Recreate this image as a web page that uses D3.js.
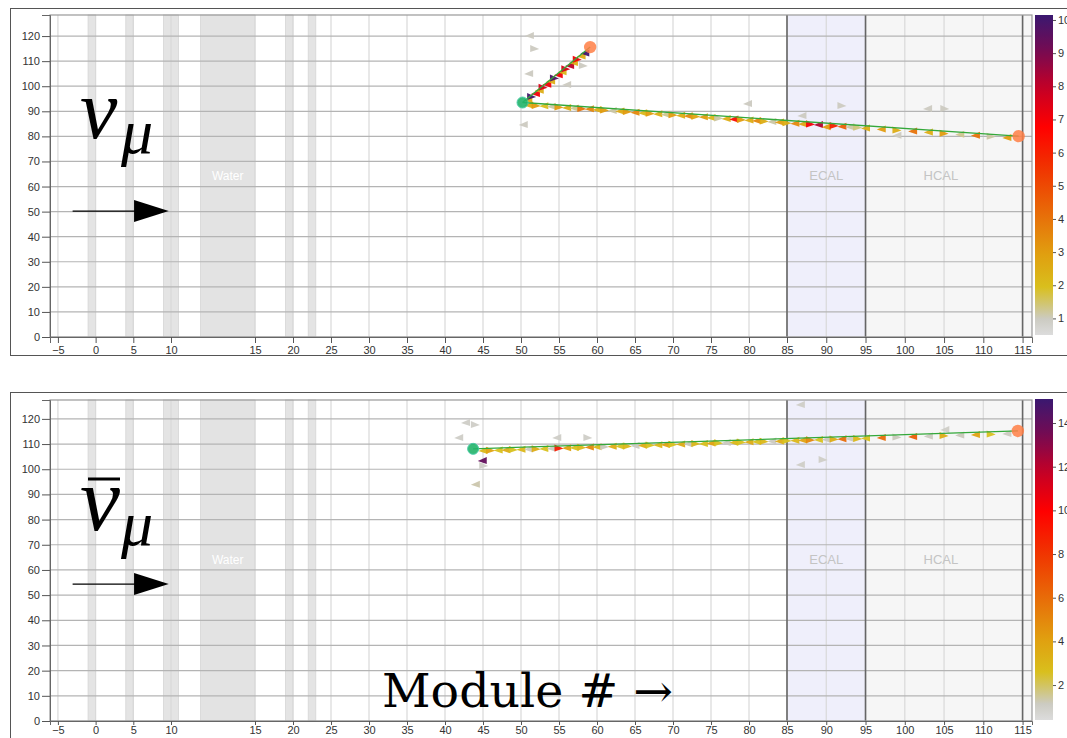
<!DOCTYPE html>
<html><head><meta charset="utf-8">
<script src="https://cdn.jsdelivr.net/npm/d3@7"></script>
<style>body{margin:0;background:#fff;overflow:hidden} svg{display:block}</style>
</head><body><svg id="c" width="1067" height="738"></svg>
<script>
// ---------------- data ----------------
const xTicks = [-5,0,5,10,15,20,25,30,35,40,45,50,55,60,65,70,75,80,85,90,95,100,105,110,115];
const yTicks = [0,10,20,30,40,50,60,70,80,90,100,110,120];
const targetBands = [[-1,0],[4,5],[9,10.45],[19,20],[22,23]];
const waterBand = [11.75,15];
const ecalRange = [85,95];
const hcalRange = [95,115];
const regionLabels = ["Water","ECAL","HCAL"];

const numuCbarTicks = [1,2,3,4,5,6,7,8,9,10];
const numuCbarDomain = [0.5,10.15];
const nubarCbarTicks = [2,4,6,8,10,12,14];
const nubarCbarDomain = [0.4,15.1];

// nu_mu event: vertex, track end points, hits [module, position, energy]
const numuVertex = [50.2,93.5];
const numuTrackEnds = [[114.5,80.1],[59.1,115.6]];
const numuMuonHits = [
 [51,93.1,2.5],[52,92.9,3],[53,92.8,2],[54,92.6,1.2],[55,92.3,3],[56,92.1,2.5],[57,91.9,1.3],[58,91.7,4],
 [59,91.6,3.6],[60,91.3,2.5],[61,91.1,3],[62,90.9,1.2],[63,90.7,2.5],[64,90.5,3],[65,90.2,3.5],[66,90.0,2.2],
 [67,89.8,3],[68,89.6,2.5],[69,89.4,1.3],[70,89.2,3],[71,89.0,2.5],[72,88.8,3.5],[73,88.6,2.8],[74,88.4,3],
 [75,88.1,2.2],[76,87.9,1.2],[77,87.7,2.5],[78,87.5,6.5],[79,87.3,3],[80,87.1,2.5],[81,86.9,3.5],[82,86.7,2.5],
 [83,86.5,1.2],[84,86.3,3],[85,86.0,2.5],[86,85.8,3.5],[87,85.6,2.8],[88,85.5,7],[89,85.3,8.2],[90,84.4,3],
 [91,84.9,6],[92,84.6,4.5],[93,84.4,1.2],[94,84.2,1.4],[95,83.9,2.5],[97,83.5,3],[99,83.1,2.5],[101,82.7,4],
 [103,82.3,2.5],[105,81.8,3],[107,81.4,1.3],[109,81.0,4],[111,80.6,1.2],[113,80.2,3]
];
const numuProtonHits = [
 [50.9,95.2,2.5],[51.4,96.5,10],[51.9,97.7,7],[52.4,99.0,2.5],[52.9,100.2,7.5],[53.4,101.4,7],[53.9,102.7,2.5],
 [54.4,103.9,9.8],[54.9,105.2,7],[55.4,106.4,2.2],[55.9,107.6,7.5],[56.4,108.9,8],[56.9,110.1,2.5],[57.4,111.4,7],
 [57.9,112.6,2.5],[58.4,113.8,10]
];
const numuLooseHits = [
 [51.1,120.8,1],[51.8,115.6,1],[51.0,105.7,1],[56.0,101.3,1],[58.2,108.9,1],[50.3,85.3,1],
 [79.8,93.7,1],[92.0,92.9,1],[86.9,88.9,1],[102.9,91.7,1],[105.1,91.7,1],[99.0,81.0,1]
];

// anti-nu_mu event
const nubarVertex = [43.7,108.1];
const nubarTrackEnds = [[114.4,115.2]];
const nubarMuonHits = [
 [45,108.0,3],[46,108.1,4],[47,108.2,2.5],[48,108.3,3.5],[49,108.4,2.5],[50,108.5,3],[51,108.6,1.2],[52,108.7,3.5],
 [53,108.8,2.5],[54,108.9,1.2],[55,109.0,9],[56,109.1,4],[57,109.2,2.5],[58,109.3,3],[59,109.4,5],[60,109.5,3],
 [61,109.6,1.3],[62,109.7,3.5],[63,109.8,2.5],[64,109.8,3],[65,110.0,1.2],[66,110.1,3.5],[67,110.2,2.5],[68,110.3,3],
 [69,110.4,4],[70,110.5,2.5],[71,110.6,3.5],[72,110.7,1.3],[73,110.8,3],[74,110.8,2.5],[75,111.0,4],[76,111.1,2.5],
 [77,111.2,1.2],[78,111.3,3],[79,111.4,2.5],[80,111.5,3.5],[81,111.6,2.5],[82,111.7,3],[83,111.8,1.2],[84,111.8,3.5],
 [85,112.0,2.5],[86,112.1,3],[87,112.2,4],[88,112.3,5],[89,112.4,2.5],[90,112.5,1.3],[91,112.6,3.5],[92,112.7,6],
 [93,112.8,1.2],[94,112.8,3],[95,113.0,2.5],[97,113.2,6],[99,113.4,1.3],[101,113.6,6.5],[103,113.8,1.2],
 [105,114.0,3.5],[107,114.2,1.3],[109,114.4,4],[111,114.6,2.5],[113,114.8,1.2]
];
const nubarLooseHits = [
 [42.7,119.2,1],[44.0,118.4,1],[41.8,113.2,1],[44.9,104.1,14],[45.1,102.1,1],[44.0,94.6,1.4],
 [54.7,113.2,1],[58.8,113.2,1],[86.7,126.3,1],[86.7,102.5,1],[89.6,104.5,1],[105.1,116.4,1]
];

// ---------------- drawing ----------------
const svg = d3.select("#c");
const x = d3.scaleLinear().domain([-6.05,10,15,85,116.2]).range([50,171,255,787,1032]);

const rampT = [0,0.06,0.14,0.25,0.38,0.52,0.65,0.78,0.88,1];
const rampC = ["#dcdcdc","#c9c7bd","#d8c21e","#e0a010","#e86c08","#f03400","#ff0000","#c00028","#7a0a50","#3a1870"];
const ramp = d3.scaleLinear().domain(rampT).range(rampC).interpolate(d3.interpolateRgb).clamp(true);

function panel(cfg){
  const g = svg.append("g");
  const y = d3.scaleLinear().domain([0,cfg.yMax]).range([cfg.bottom,cfg.top]);
  const L = 50, R = 1032;
  g.append("rect").attr("x",10.5).attr("y",cfg.frameTop+0.5).attr("width",1080).attr("height",cfg.frameH)
    .attr("fill","#fff").attr("stroke","#555").attr("stroke-width",1);
  g.append("rect").attr("x",x(ecalRange[0])).attr("y",cfg.top).attr("width",x(ecalRange[1])-x(ecalRange[0]))
    .attr("height",cfg.bottom-cfg.top).attr("fill","#efeffb");
  g.append("rect").attr("x",x(hcalRange[0])).attr("y",cfg.top).attr("width",R-x(hcalRange[0]))
    .attr("height",cfg.bottom-cfg.top).attr("fill","#f6f6f6");
  g.selectAll(".tb").data(targetBands).join("rect")
    .attr("x",d=>x(d[0])).attr("width",d=>x(d[1])-x(d[0])).attr("y",cfg.top).attr("height",cfg.bottom-cfg.top)
    .attr("fill","#e4e4e4").attr("stroke","#d6d6d6").attr("stroke-width",0.8);
  g.append("rect").attr("x",x(waterBand[0])).attr("width",x(waterBand[1])-x(waterBand[0])).attr("y",cfg.top)
    .attr("height",cfg.bottom-cfg.top).attr("fill","#e3e3e3").attr("stroke","#d6d6d6").attr("stroke-width",0.8);
  g.selectAll(".vg").data(xTicks).join("line")
    .attr("x1",d=>x(d)).attr("x2",d=>x(d)).attr("y1",cfg.top).attr("y2",cfg.bottom)
    .attr("stroke","#d9d9d9").attr("stroke-width",1.2);
  g.selectAll(".hg").data(yTicks).join("line")
    .attr("x1",L).attr("x2",R).attr("y1",d=>y(d)).attr("y2",d=>y(d))
    .attr("stroke","#b4b4b4").attr("stroke-width",1.2);
  g.selectAll(".db").data([ecalRange[0],ecalRange[1],hcalRange[1]]).join("line")
    .attr("x1",d=>x(d)).attr("x2",d=>x(d)).attr("y1",cfg.top).attr("y2",cfg.bottom)
    .attr("stroke","#666").attr("stroke-width",1.6);
  g.append("rect").attr("x",L).attr("y",cfg.top).attr("width",R-L).attr("height",cfg.bottom-cfg.top)
    .attr("fill","none").attr("stroke","#999").attr("stroke-width",1.2);
  g.append("text").attr("x",x((waterBand[0]+waterBand[1])/2)).attr("y",y(62.5)).attr("text-anchor","middle")
    .attr("font-family","Liberation Sans, Arial, sans-serif").attr("font-size",12).attr("fill","#fff").text(regionLabels[0]);
  g.append("text").attr("x",x(90)).attr("y",y(62.5)).attr("text-anchor","middle")
    .attr("font-family","Liberation Sans, Arial, sans-serif").attr("font-size",13).attr("fill","#c4c4c4").text(regionLabels[1]);
  g.append("text").attr("x",x(104.6)).attr("y",y(62.5)).attr("text-anchor","middle")
    .attr("font-family","Liberation Sans, Arial, sans-serif").attr("font-size",13).attr("fill","#c4c4c4").text(regionLabels[2]);
  const ax = g.append("g").attr("transform",`translate(0,${cfg.bottom})`)
    .call(d3.axisBottom(x).tickValues(xTicks).tickSize(cfg.xTickSize).tickPadding(cfg.xTickPad));
  const ay = g.append("g").attr("transform",`translate(${L},0)`)
    .call(d3.axisLeft(y).tickValues(yTicks).tickSize(8).tickPadding(2));
  [ax,ay].forEach(a=>{
    a.selectAll("text").attr("font-family","Liberation Sans, Arial, sans-serif").attr("font-size",11).attr("fill","#333");
    a.selectAll("line").attr("stroke","#555");
    a.select(".domain").attr("stroke","#666");
  });
  const cb = d3.scaleLinear().domain(cfg.cbDomain).range([cfg.cbBottom,cfg.cbTop]);
  const gid = "grad"+cfg.id;
  const grad = svg.append("defs").append("linearGradient").attr("id",gid)
    .attr("x1",0).attr("y1",1).attr("x2",0).attr("y2",0);
  d3.range(0,1.0001,0.05).forEach(t=>grad.append("stop").attr("offset",t).attr("stop-color",ramp(t)));
  g.append("rect").attr("x",1035).attr("y",cfg.cbTop).attr("width",18).attr("height",cfg.cbBottom-cfg.cbTop)
    .attr("fill",`url(#${gid})`);
  const ac = g.append("g").attr("transform","translate(1053,0)")
    .call(d3.axisRight(cb).tickValues(cfg.cbTicks).tickSize(3).tickPadding(2));
  ac.select(".domain").remove();
  ac.selectAll("text").attr("font-family","Liberation Sans, Arial, sans-serif").attr("font-size",11).attr("fill","#333");
  ac.selectAll("line").attr("stroke","#555");
  const col = e => ramp((e-cfg.cbDomain[0])/(cfg.cbDomain[1]-cfg.cbDomain[0]));

  const triR = "M-4.5,-3.5L4.5,0.5L-4.5,3.5Z", triL = "M4.5,-3.5L-4.5,0.5L4.5,3.5Z";
  const allHits = cfg.loose.concat(cfg.hits);
  g.selectAll(".hit").data(allHits).join("path")
    .attr("d",(d,i)=> i%3===1 ? triR : triL)
    .attr("transform",d=>`translate(${x(d[0])},${y(d[1])+1.5})`)
    .attr("fill",d=>col(d[2])).attr("opacity",0.95);
  g.selectAll(".trk").data(cfg.ends).join("line")
    .attr("x1",x(cfg.vertex[0])).attr("y1",y(cfg.vertex[1])).attr("x2",d=>x(d[0])).attr("y2",d=>y(d[1]))
    .attr("stroke","#34a83a").attr("stroke-width",1.3);
  g.selectAll(".end").data(cfg.ends).join("circle")
    .attr("cx",d=>x(d[0])).attr("cy",d=>y(d[1])).attr("r",6.2).attr("fill","#ff7f45").attr("opacity",0.85);
  g.append("circle").attr("cx",x(cfg.vertex[0])).attr("cy",y(cfg.vertex[1])).attr("r",5.5)
    .attr("fill","#22b46a").attr("stroke","#3cc8a0").attr("stroke-width",1).attr("opacity",0.9);

  const ay0 = y(cfg.arrowY);
  g.append("line").attr("x1",x(-3.05)).attr("x2",x(5.3)).attr("y1",ay0).attr("y2",ay0)
    .attr("stroke","#000").attr("stroke-width",1.3);
  g.append("path").attr("d",`M${x(5.1)},${ay0-11}L${x(9.7)},${ay0}L${x(5.1)},${ay0+11}Z`).attr("fill","#000");
  const lab = g.append("g");
  lab.append("text").attr("x",80).attr("y",cfg.nuBase).attr("font-family","Liberation Serif, DejaVu Serif, serif")
    .attr("font-style","italic").attr("font-size",cfg.nuSize).attr("fill","#000").text("ν");
  lab.append("text").attr("x",121).attr("y",cfg.nuBase+15).attr("font-family","Liberation Serif, DejaVu Serif, serif")
    .attr("font-style","italic").attr("font-size",64).attr("fill","#000").text("μ");
  if(cfg.bar){
    lab.append("line").attr("x1",88).attr("x2",120).attr("y1",cfg.nuBase-51).attr("y2",cfg.nuBase-51)
      .attr("stroke","#000").attr("stroke-width",3);
  }
  return {g,y};
}

panel({id:1,frameTop:8,frameH:347,top:15,bottom:337,yMax:128.4,cbTop:15,cbBottom:335,cbDomain:numuCbarDomain,
  cbTicks:numuCbarTicks,vertex:numuVertex,ends:numuTrackEnds,hits:numuMuonHits.concat(numuProtonHits),
  loose:numuLooseHits,arrowY:50.2,nuBase:138,nuSize:84,bar:false,xTickSize:6,xTickPad:3});
panel({id:2,frameTop:392,frameH:360,top:400,bottom:721,yMax:127.5,cbTop:399,cbBottom:720,cbDomain:nubarCbarDomain,
  cbTicks:nubarCbarTicks,vertex:nubarVertex,ends:nubarTrackEnds,hits:nubarMuonHits,
  loose:nubarLooseHits,arrowY:54.4,nuBase:530,nuSize:90,bar:true,xTickSize:4,xTickPad:1});

svg.append("text").attr("x",382).attr("y",707).attr("font-family","DejaVu Serif, serif").attr("font-size",46)
  .attr("textLength",291).attr("lengthAdjust","spacingAndGlyphs").attr("fill","#000").text("Module # →");
</script></body></html>
